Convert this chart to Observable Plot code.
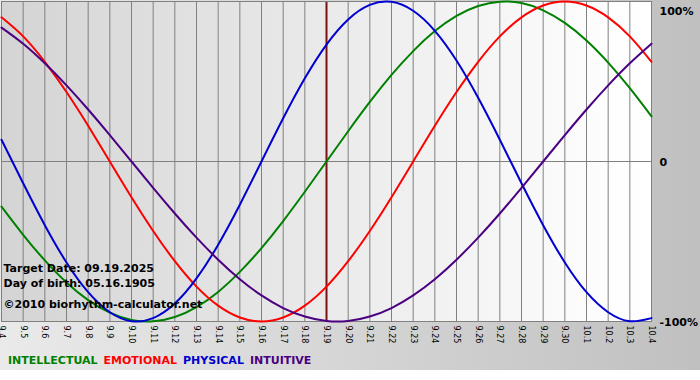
<!DOCTYPE html>
<html>
<head>
<meta charset="utf-8">
<script src="https://cdn.jsdelivr.net/npm/d3@7"></script>
<script src="https://cdn.jsdelivr.net/npm/@observablehq/plot@0.6"></script>
<style>
  html, body { margin: 0; padding: 0; background: #fff; }
  #wrap { position: relative; width: 700px; height: 370px; background: linear-gradient(to right, #eaeaea, #c0c0c0); overflow: hidden; }
  #chart { position: absolute; left: 0; top: 0; }
  #legend { position: absolute; left: 8px; top: 352px; font: bold 11px "DejaVu Sans", Verdana, sans-serif; line-height: 18px; white-space: nowrap; }
  #legend span { margin-right: 6px; }
</style>
</head>
<body>
<div id="wrap">
  <div id="chart"></div>
  <div id="legend"></div>
</div>
<script>
const dates = ["9.4","9.5","9.6","9.7","9.8","9.9","9.10","9.11","9.12","9.13","9.14","9.15","9.16","9.17","9.18","9.19","9.20","9.21","9.22","9.23","9.24","9.25","9.26","9.27","9.28","9.29","9.30","10.1","10.2","10.3","10.4"];
const intellectual = [-0.282,-0.458,-0.618,-0.756,-0.866,-0.945,-0.990,-0.999,-0.972,-0.910,-0.815,-0.690,-0.541,-0.372,-0.189,0,0.189,0.372,0.541,0.690,0.815,0.910,0.972,0.999,0.990,0.945,0.866,0.756,0.618,0.458,0.282];
const emotional = [0.901,0.782,0.623,0.434,0.223,0,-0.223,-0.434,-0.623,-0.782,-0.901,-0.975,-1,-0.975,-0.901,-0.782,-0.623,-0.434,-0.223,0,0.223,0.434,0.623,0.782,0.901,0.975,1,0.975,0.901,0.782,0.623];
const physical = [0.136,-0.136,-0.398,-0.631,-0.817,-0.942,-0.998,-0.979,-0.888,-0.731,-0.520,-0.270,0,0.270,0.520,0.731,0.888,0.979,0.998,0.942,0.817,0.631,0.398,0.136,-0.136,-0.398,-0.631,-0.817,-0.942,-0.998,-0.979];
const intuitive = [0.837,0.736,0.614,0.476,0.325,0.165,0,-0.165,-0.325,-0.476,-0.614,-0.736,-0.837,-0.916,-0.969,-0.997,-0.997,-0.969,-0.916,-0.837,-0.736,-0.614,-0.476,-0.325,-0.165,0,0.165,0.325,0.476,0.614,0.736];
const seriesNames = ["INTELLECTUAL","EMOTIONAL","PHYSICAL","INTUITIVE"];
const seriesColors = ["#008000","#ff0000","#0000d0","#4b0082"];
const yTickValues = [1, 0, -1];
const yTickLabels = ["100%", "0", "-100%"];
const targetDate = "9.19";
const infoLines = ["Target Date: 09.19.2025", "Day of birth: 05.16.1905", "©2010 biorhythm-calculator.net"];

const seriesValues = [intellectual, emotional, physical, intuitive];
const dayIndex = dates.map((d, i) => i);
const rows = [];
seriesNames.forEach((name, i) => {
  dates.forEach((d, j) => rows.push({series: name, day: j, value: seriesValues[i][j]}));
});
const textStyle = {fontSize: 11, fontWeight: "bold", fill: "#000", fontFamily: "DejaVu Sans", textAnchor: "start"};

const chart = Plot.plot({
  width: 700,
  height: 350,
  marginLeft: 1,
  marginRight: 49,
  marginTop: 1,
  marginBottom: 29,
  style: {background: "transparent", overflow: "visible"},
  x: {type: "linear", domain: [0, dates.length - 1], label: null, axis: null},
  y: {domain: [-1, 1], label: null, axis: null},
  color: {domain: seriesNames, range: seriesColors},
  marks: [
    Plot.frame({fill: "url(#plotbg)"}),
    Plot.ruleX(dayIndex, {x: d => d, stroke: "#808080", strokeOpacity: 1, strokeWidth: 1}),
    Plot.ruleY([0], {stroke: "#808080", strokeWidth: 1}),
    Plot.ruleX([dates.indexOf(targetDate)], {x: d => d, stroke: "#7a1010", strokeWidth: 2}),
    Plot.frame({stroke: "#808080", strokeWidth: 1}),
    Plot.line(rows, {x: "day", y: "value", z: "series", stroke: "series", strokeWidth: 2, curve: "natural"}),
    Plot.axisX({ticks: dayIndex, tickFormat: i => dates[i], tickRotate: 90, tickSize: 0, tickPadding: 4, fontSize: 8, fill: "#000", fontFamily: "DejaVu Sans, Verdana, sans-serif", label: null}),
    Plot.text([yTickLabels[0]], {...textStyle, frameAnchor: "top-right", dx: 8, dy: 6, text: d => d}),
    Plot.text([1, 2], {...textStyle, y: i => yTickValues[i], text: i => yTickLabels[i], frameAnchor: "right", dx: 8, dy: 1}),
    Plot.text([infoLines[0]], {...textStyle, frameAnchor: "bottom-left", dx: 2, dy: -50, text: d => d}),
    Plot.text([infoLines[1]], {...textStyle, frameAnchor: "bottom-left", dx: 2, dy: -35, text: d => d}),
    Plot.text([infoLines[2]], {...textStyle, frameAnchor: "bottom-left", dx: 2, dy: -14, text: d => d})
  ]
});

const svgNS = "http://www.w3.org/2000/svg";
const defs = document.createElementNS(svgNS, "defs");
const grad = document.createElementNS(svgNS, "linearGradient");
grad.setAttribute("id", "plotbg");
grad.setAttribute("x1", "0"); grad.setAttribute("y1", "0");
grad.setAttribute("x2", "1"); grad.setAttribute("y2", "0");
[["0", "#d4d4d4"], ["0.9", "#fcfcfc"], ["1", "#ffffff"]].forEach(([o, c]) => {
  const s = document.createElementNS(svgNS, "stop");
  s.setAttribute("offset", o); s.setAttribute("stop-color", c);
  grad.appendChild(s);
});
defs.appendChild(grad);
chart.insertBefore(defs, chart.firstChild);
document.getElementById("chart").appendChild(chart);

const legend = document.getElementById("legend");
seriesNames.forEach((n, i) => {
  const s = document.createElement("span");
  s.textContent = n;
  s.style.color = seriesColors[i];
  legend.appendChild(s);
});
</script>
</body>
</html>
